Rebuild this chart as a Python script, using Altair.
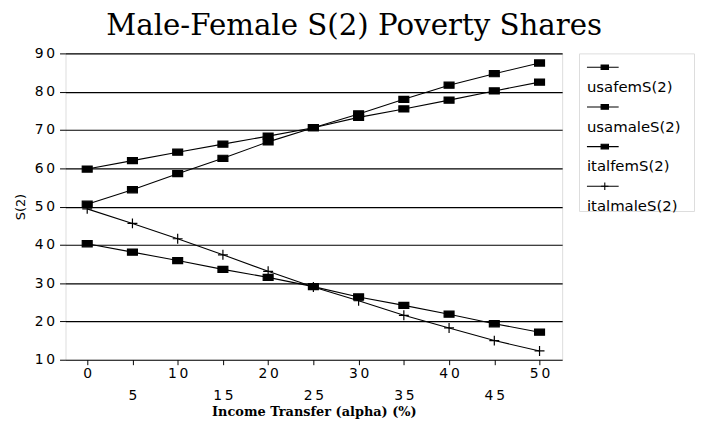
import altair as alt
import pandas as pd

alpha = [0, 5, 10, 15, 20, 25, 30, 35, 40, 45, 50]
series_names = ["usafemS(2)", "usamaleS(2)", "italfemS(2)", "italmaleS(2)"]
usafem = [59.8, 62.0, 64.2, 66.3, 68.4, 70.6, 73.3, 75.5, 77.8, 80.2, 82.5]
usamale = [40.3, 38.1, 35.9, 33.6, 31.5, 29.1, 26.4, 24.2, 21.9, 19.4, 17.2]
italfem = [50.6, 54.4, 58.6, 62.6, 66.9, 70.6, 74.2, 78.0, 81.7, 84.7, 87.5]
italmale = [49.4, 45.6, 41.6, 37.4, 33.1, 29.0, 25.4, 21.6, 18.3, 15.0, 12.3]
y_ticks = [10, 20, 30, 40, 50, 60, 70, 80, 90]

rows = []
for name, vals in zip(series_names, [usafem, usamale, italfem, italmale]):
    for a, v in zip(alpha, vals):
        rows.append({"alpha": a, "S2": v, "series": name})
df = pd.DataFrame(rows)

sq = "M-1,-0.62L1,-0.62L1,0.62L-1,0.62Z"
plus = "M-1,0L1,0M0,-1L0,1"
shape_scale = alt.Scale(domain=series_names, range=[sq, sq, sq, plus])

spaced = "join(split(datum.label, ''), '\u2009')"

x = alt.X(
    "alpha:Q",
    scale=alt.Scale(domain=[-2.4, 52.5], nice=False, zero=False),
    axis=alt.Axis(
        values=alpha,
        title="Income Transfer (alpha) (%)",
        titleFont="DejaVu Serif",
        titleFontWeight="bold",
        titleFontSize=13,
        titleColor="black",
        titlePadding=3,
        labelExpr=f"datum.value % 10 == 0 ? {spaced} : ['', {spaced}]",
        labelFont="DejaVu Sans",
        labelFontSize=14,
        labelColor="black",
        labelLineHeight=22,
        labelPadding=2,
        labelOverlap=False,
        labelFlush=False,
        tickSize=5,
        tickColor="black",
        domain=False,
        grid=False,
    ),
)
y = alt.Y(
    "S2:Q",
    scale=alt.Scale(domain=[10, 90], nice=False, zero=False),
    axis=alt.Axis(
        values=y_ticks,
        title="S(2)",
        titleFont="DejaVu Sans",
        titleFontWeight="normal",
        titleFontSize=13,
        titleColor="black",
        titlePadding=7,
        labelExpr=spaced,
        labelFont="DejaVu Sans",
        labelFontSize=14,
        labelColor="black",
        labelPadding=5,
        tickSize=6,
        tickColor="black",
        domain=False,
        grid=True,
        gridColor="black",
        gridWidth=1.2,
        gridOpacity=1,
    ),
)

base = alt.Chart(df)
lines = base.mark_line(color="black", strokeWidth=1.1).encode(x=x, y=y, detail="series:N")
points = base.mark_point(
    filled=True, fill="black", stroke="black", strokeWidth=1.2, opacity=1
).encode(
    x=x,
    y=y,
    shape=alt.Shape("series:N", scale=shape_scale, legend=None),
    size=alt.value(100),
)
main = alt.layer(lines, points).properties(width=501, height=309)

leg_df = pd.DataFrame(
    {"series": series_names, "sym_row": [0, 2, 4, 6], "lab_row": [1, 3, 5, 7]}
)
ly = alt.Scale(domain=[-0.7, 7.25], nice=False, zero=False, reverse=True)
leg_base = alt.Chart(leg_df)
leg_rule = leg_base.mark_rule(color="black", strokeWidth=1.1).encode(
    x=alt.value(8), x2=alt.value(40), y=alt.Y("sym_row:Q", scale=ly, axis=None)
)
leg_pts = leg_base.mark_point(
    filled=True, fill="black", stroke="black", strokeWidth=1.1, opacity=1
).encode(
    x=alt.value(26),
    y=alt.Y("sym_row:Q", scale=ly, axis=None),
    shape=alt.Shape("series:N", scale=shape_scale, legend=None),
    size=alt.value(55),
)
leg_txt = leg_base.mark_text(
    align="left", baseline="middle", font="DejaVu Sans", fontSize=15, color="black"
).encode(
    x=alt.value(8),
    y=alt.Y("lab_row:Q", scale=ly, axis=None),
    text="series:N",
)
legend = alt.layer(leg_rule, leg_pts, leg_txt).properties(width=116, height=159)

chart = (
    alt.hconcat(main, legend, spacing=15)
    .properties(
        title=alt.TitleParams(
            "Male-Female S(2) Poverty Shares",
            font="DejaVu Serif",
            fontSize=29.5,
            fontWeight="normal",
            color="black",
            anchor="middle",
            offset=5,
        ),
        padding={"left": 5, "top": 1, "right": 0, "bottom": 0},
    )
    .configure_view(stroke="black", strokeWidth=1.2)
    .configure(background="white")
)

chart.save("out.html", embed_options={"renderer": "svg", "actions": False})
